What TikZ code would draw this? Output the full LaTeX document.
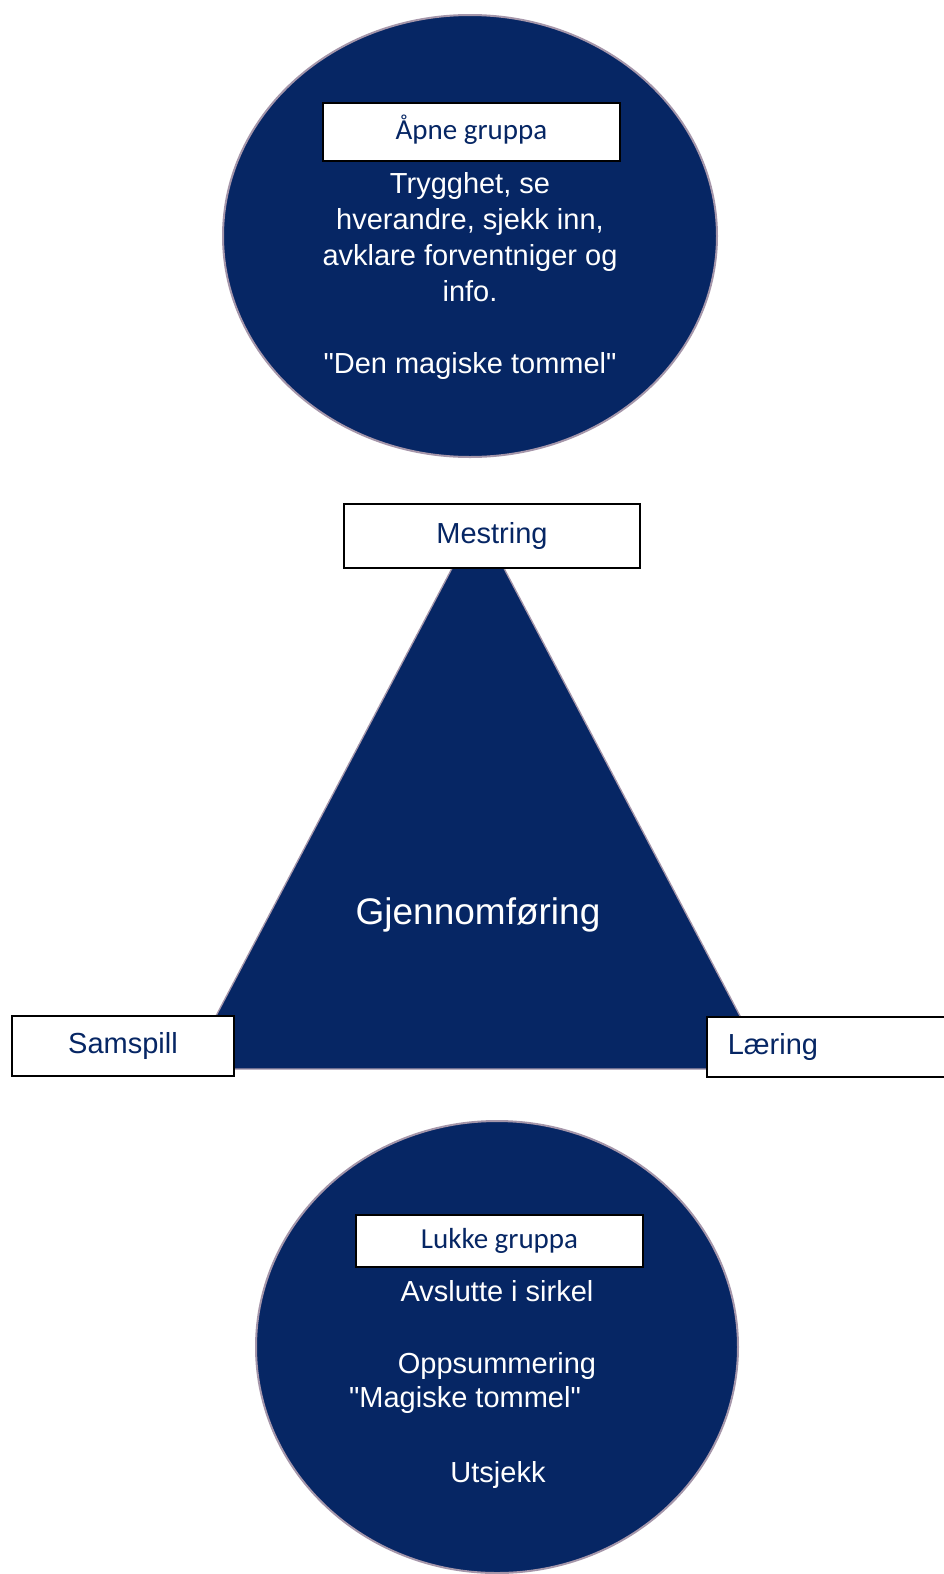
\documentclass[tikz,border=0pt]{standalone}
\usepackage{fontspec}
\setmainfont{Liberation Sans}[Ligatures=TeXOff]
\newfontfamily\calfont{Carlito}
\usetikzlibrary{shapes.geometric}
\definecolor{gpnavy}{RGB}{6,38,100}
\definecolor{gprim}{RGB}{165,150,170}

\begin{document}
\begin{tikzpicture}[x=0.75pt,y=-0.75pt,
  disc/.style={ellipse,fill=gpnavy,draw=gprim,line width=1.5pt,inner sep=0pt},
  tag/.style={draw=black,line width=1.2pt,fill=white,inner sep=0pt,text=gpnavy,
              text height=15.6pt,text depth=4.6pt,font=\fontsize{21.75}{26}\selectfont},
  caltag/.style={tag,font=\calfont\fontsize{21.75}{26}\selectfont},
  txt/.style={text=white,align=center,inner sep=0pt,font=\fontsize{21.75}{27}\selectfont}]
  \useasboundingbox (0,0) rectangle (944,1574);

  % opening
  \node[disc,minimum width=370.5pt,minimum height=331.5pt] (open) at (470,236) {};
  \node[caltag,minimum width=222.75pt,minimum height=43.5pt] (apne) at (471.5,132) {Åpne gruppa};
  \node[txt] (opentxt) at (470,276) {Trygghet, se\\hverandre, sjekk inn,\\avklare forventniger og\\info.\\[27pt]"Den magiske tommel"};

  % triangle
  \coordinate (apex) at (478,519);
  \coordinate (baseL) at (188,1069);
  \coordinate (baseR) at (768,1069);
  \filldraw[fill=gpnavy,draw=gprim,line width=1pt] (apex) -- (baseL) -- (baseR) -- cycle;
  \node[txt,font=\fontsize{27.75}{33}\selectfont] (gjen) at (478,915) {Gjennomføring};

  \node[tag,minimum width=222pt,minimum height=48pt] (mestring) at (492,536) {Mestring};
  \node[tag,minimum width=166.5pt,minimum height=45pt] (samspill) at (123,1046) {Samspill};
  \node[tag,anchor=north west,minimum height=45pt,inner xsep=15.75pt,text width=150pt,align=left] (laering) at (706,1016) {Læring};

  % closing
  \node[disc,minimum width=361.5pt,minimum height=339pt] (close) at (497,1347) {};
  \node[caltag,minimum width=215.25pt,minimum height=39pt] (lukke) at (499.5,1241) {Lukke gruppa};
  \node[txt] (avslutt) at (497,1291) {Avslutte i sirkel};
  \node[txt] (oppsum) at (497,1366) {Oppsummering};
  \node[txt] (tommel) at (465,1400) {"Magiske tommel"};
  \node[txt] (utsjekk) at (498,1475) {Utsjekk};
\end{tikzpicture}
\end{document}
